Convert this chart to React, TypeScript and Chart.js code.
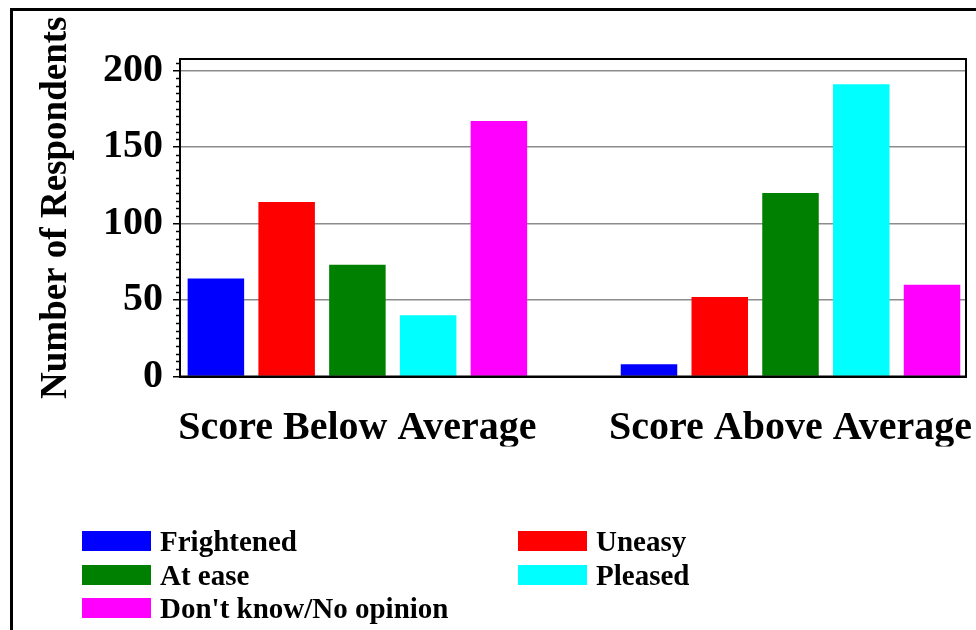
import React, { useEffect, useRef } from 'react';
import { Chart, registerables } from 'chart.js';

Chart.register(...registerables);

const categories = ['Score Below Average', 'Score Above Average'];
const seriesNames = ['Frightened', 'Uneasy', 'At ease', 'Pleased', "Don't know/No opinion"];
const seriesColors = ['#0000ff', '#ff0000', '#008000', '#00ffff', '#ff00ff'];
const frightened = [64, 8];
const uneasy = [114, 52];
const atEase = [73, 120];
const pleased = [40, 191];
const dontKnow = [167, 60];
const seriesValues = [frightened, uneasy, atEase, pleased, dontKnow];
const yMax = 207.5;
const yStep = 50;
const yMinorStep = 5;
const yTitle = 'Number of Respondents';

const FONT = "'Liberation Serif', 'Times New Roman', Times, serif";

const plotBorder = {
  id: 'plotBorder',
  afterDatasetsDraw(chart: any) {
    const { ctx, chartArea } = chart;
    ctx.save();
    ctx.strokeStyle = '#000';
    ctx.lineWidth = 2;
    ctx.strokeRect(chartArea.left, chartArea.top, chartArea.right - chartArea.left, chartArea.bottom - chartArea.top);
    ctx.restore();
  },
};

const minorTicks = {
  id: 'minorTicks',
  afterDraw(chart: any) {
    const { ctx, chartArea } = chart;
    const y = chart.scales.y;
    ctx.save();
    ctx.strokeStyle = '#000';
    ctx.lineWidth = 1.5;
    for (let v = 0; v <= yMax; v += yMinorStep) {
      if (v % yStep === 0) continue;
      const py = Math.round(y.getPixelForValue(v)) + 0.5;
      ctx.beginPath();
      ctx.moveTo(chartArea.left - 4, py);
      ctx.lineTo(chartArea.left, py);
      ctx.stroke();
    }
    ctx.restore();
  },
};

const yTitlePlugin = {
  id: 'yTitlePlugin',
  afterDraw(chart: any) {
    const { ctx, chartArea } = chart;
    ctx.save();
    ctx.translate(chartArea.left - 124, (chartArea.top + chartArea.bottom) / 2 - 10);
    ctx.rotate(-Math.PI / 2);
    ctx.font = `bold 37px ${FONT}`;
    ctx.fillStyle = '#000';
    ctx.textAlign = 'center';
    ctx.textBaseline = 'middle';
    ctx.fillText(yTitle, 0, 0);
    ctx.restore();
  },
};

export default function App() {
  const canvasRef = useRef<HTMLCanvasElement | null>(null);

  useEffect(() => {
    if (!canvasRef.current) return;
    const chart = new Chart(canvasRef.current, {
      type: 'bar',
      data: {
        datasets: seriesValues.map((vals, i) => ({
          label: seriesNames[i],
          data: vals.map((v, j) => ({ x: j, y: v })),
          backgroundColor: seriesColors[i],
          borderWidth: 0,
          categoryPercentage: 0.8168,
          barPercentage: 0.7986,
        })),
      },
      options: {
        animation: false,
        responsive: false,
        devicePixelRatio: 1,
        layout: { padding: { left: 0, top: 59, right: 10, bottom: 183.5 } },
        plugins: {
          legend: { display: false },
          tooltip: { enabled: false },
          title: { display: false },
        },
        scales: {
          x: {
            type: 'linear',
            offset: false,
            min: -0.4096,
            max: 1.4052,
            afterBuildTicks: (s: any) => {
              s.ticks = categories.map((_, i) => ({ value: i }));
            },
            afterFit: (s: any) => {
              s.height = 70;
              s.paddingLeft = 0;
              s.paddingRight = 0;
            },
            grid: { display: false, offset: false },
            border: { display: true, color: '#000', width: 2 },
            ticks: {
              autoSkip: false,
              maxRotation: 0,
              minRotation: 0,
              padding: 20.5,
              color: '#000',
              font: { family: FONT, size: 40, weight: 'bold' },
              callback: (v: any) => categories[Math.round(Number(v))] ?? '',
            },
          },
          y: {
            type: 'linear',
            min: 0,
            max: yMax,
            afterFit: (s: any) => {
              s.width = 180;
            },
            grid: {
              color: (c: any) => (c.tick && c.tick.value === 0 ? 'rgba(0,0,0,0)' : '#8c8c8c'),
              lineWidth: 1.5,
              tickColor: '#000',
              tickWidth: 1.5,
              tickLength: 7,
            },
            border: { display: true, color: '#000', width: 2 },
            ticks: {
              stepSize: yStep,
              includeBounds: false,
              padding: 10,
              color: '#000',
              font: { family: FONT, size: 40, weight: 'bold' },
            },
          },
        },
      },
      plugins: [plotBorder, minorTicks, yTitlePlugin],
    } as any);
    return () => chart.destroy();
  }, []);

  return (
    <div
      style={{
        position: 'fixed',
        left: 0,
        top: 0,
        width: 976,
        height: 630,
        overflow: 'hidden',
        background: '#fff',
      }}
    >
      <div
        style={{
          position: 'absolute',
          left: 10,
          top: 8,
          width: 1200,
          height: 900,
          border: '3px solid #000',
          boxSizing: 'border-box',
        }}
      />
      <canvas
        ref={canvasRef}
        width={976}
        height={630}
        style={{ position: 'absolute', left: 0, top: 0, width: 976, height: 630 }}
      />
      <div
        style={{
          position: 'absolute',
          left: 82,
          top: 531,
          display: 'grid',
          gridTemplateColumns: '436px 300px',
          rowGap: 13.5,
          fontFamily: FONT,
          fontWeight: 'bold',
          fontSize: 29,
          color: '#000',
        }}
      >
        {seriesNames.map((name, i) => (
          <div key={name} style={{ display: 'flex', alignItems: 'center', height: 20 }}>
            <span
              style={{
                display: 'inline-block',
                width: 69,
                height: 20,
                background: seriesColors[i],
                marginRight: 9,
                flex: 'none',
              }}
            />
            <span style={{ lineHeight: '20px', whiteSpace: 'nowrap' }}>{name}</span>
          </div>
        ))}
      </div>
    </div>
  );
}
